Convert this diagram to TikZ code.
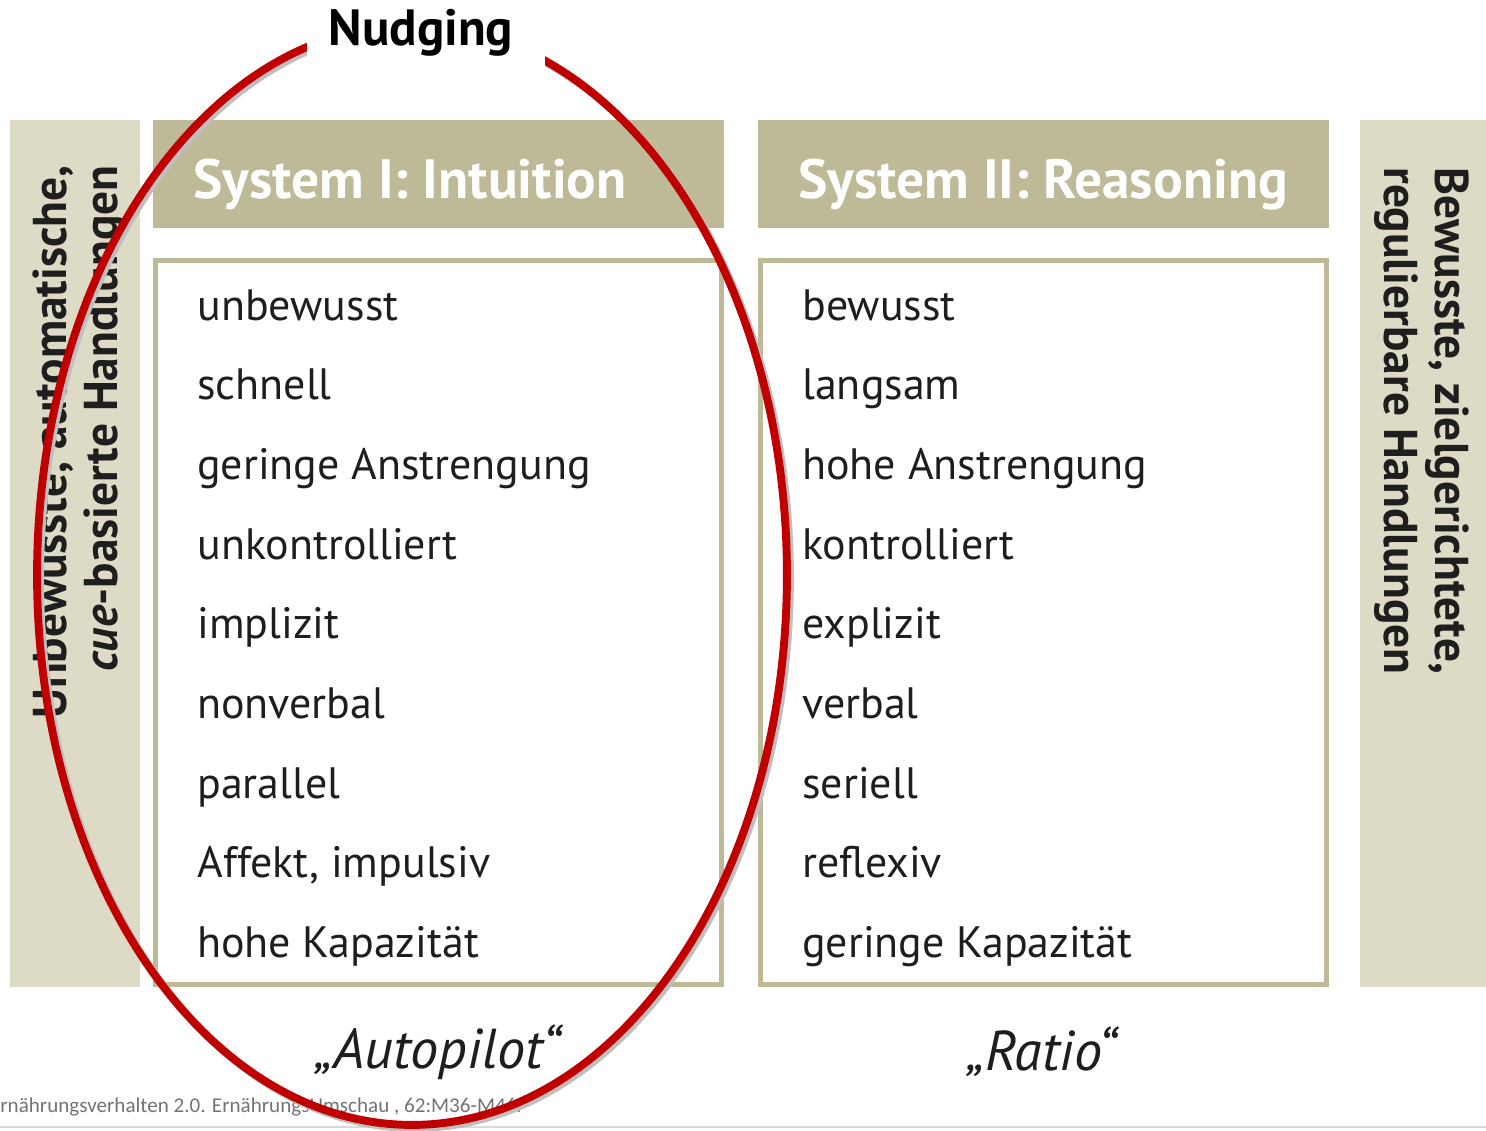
\documentclass[tikz,border=0pt]{standalone}
\usepackage{fontspec}
\setmainfont{PT Sans}
\newfontfamily\citefont{Carlito}
\usepackage{tikz}
\usetikzlibrary{positioning}
\definecolor{sysolive}{HTML}{BEB996}
\definecolor{sysbeige}{HTML}{DDDAC5}
\definecolor{nudgered}{HTML}{C00000}
\definecolor{sysink}{HTML}{1E1E1E}
\tikzset{
  headtxt/.style={anchor=base west,inner sep=0pt,text=white,font=\bfseries\fontsize{31.5}{34}\selectfont},
  itemtxt/.style={anchor=base west,inner sep=0pt,text=sysink,font=\fontsize{25}{28}\selectfont},
  sidetxt/.style={inner sep=0pt,text=sysink,font=\bfseries\fontsize{27}{29}\selectfont},
  mottotxt/.style={text=sysink,font=\itshape\fontsize{32}{34}\selectfont},
}
\begin{document}
\begin{tikzpicture}[x=0.02cm,y=-0.02cm]
  \useasboundingbox (0,0) rectangle (1486,1130);
  % side bars
  \fill[sysbeige] (10,120) rectangle (140,987);
  \fill[sysbeige] (1360,120) rectangle (1486,987);
  \node[sidetxt,rotate=90,align=right] (unbew) at (80,442)
        {Unbewusste, automatische,\\\textit{cue}-basierte Handlungen};
  \node[sidetxt,rotate=-90,align=left] (bew) at (1422,421)
        {Bewusste, zielgerichtete,\\regulierbare Handlungen};
  % two systems
  \foreach \x/\n/\t in {153/one/System I: Intuition, 758/two/System II: Reasoning} {
    \fill[sysolive] (\x,120) rectangle (\x+571,228);
    \draw[sysolive,line width=2.6pt] (\x+2.5,260.5) rectangle (\x+568.5,984.5);
    \node[headtxt] (head\n) at (\x+40,198) {\t};
  }
  \foreach \i/\a/\b in {0/unbewusst/bewusst, 1/schnell/langsam,
      2/geringe Anstrengung/hohe Anstrengung, 3/unkontrolliert/kontrolliert,
      4/implizit/explizit, 5/nonverbal/verbal, 6/parallel/seriell,
      7/{Affekt, impulsiv}/reflexiv, 8/hohe Kapazität/geringe Kapazität} {
    \node[itemtxt] (a\i) at (197,320+79.7*\i) {\a};
    \node[itemtxt] (b\i) at (802,320+79.7*\i) {\b};
  }
  \node[mottotxt] (auto) at (438,1052) {„Autopilot“};
  \node[mottotxt] (ratio) at (1042,1052) {„Ratio“};
  \node[anchor=base west,text=black!55,font=\citefont\fontsize{12}{14}\selectfont,inner sep=0pt]
        (cite) at (0,1112) {rnährungsverhalten 2.0. ErnährungsUmschau , 62:M36-M46.};
  \draw[black!15,line width=0.6pt] (0,1127) -- (1486,1127);
  % nudging ellipse
  \draw[black!25,line width=4.5pt] (415,578) ellipse [x radius=7.5cm, y radius=11cm];
  \draw[nudgered,line width=4.5pt] (412,575) ellipse [x radius=7.5cm, y radius=11cm];
  \node[fill=white,minimum width=4.76cm,minimum height=1.4cm,inner sep=0pt] (gap) at (426,35) {};
  \node[font=\bfseries\fontsize{29}{31}\selectfont,anchor=base] (nudging) at (421,45) {Nudging};
\end{tikzpicture}
\end{document}
